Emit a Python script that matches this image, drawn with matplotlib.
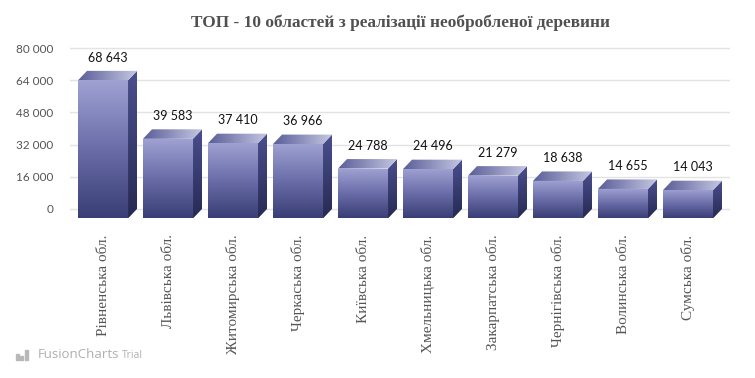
import numpy as np
import matplotlib.pyplot as plt
from matplotlib.patches import Polygon
from matplotlib.colors import LinearSegmentedColormap

# дані з діаграми
regions = ["Рівненська обл.", "Львівська обл.", "Житомирська обл.", "Черкаська обл.",
           "Київська обл.", "Хмельницька обл.", "Закарпатська обл.", "Чернігівська обл.",
           "Волинська обл.", "Сумська обл."]
values = [68643, 39583, 37410, 36966, 24788, 24496, 21279, 18638, 14655, 14043]
value_labels = ["68 643", "39 583", "37 410", "36 966", "24 788",
                "24 496", "21 279", "18 638", "14 655", "14 043"]
y_ticks = [0, 16000, 32000, 48000, 64000, 80000]
y_tick_labels = ["0", "16 000", "32 000", "48 000", "64 000", "80 000"]
title = "ТОП - 10 областей з реалізації необробленої деревини"

W, H = 755, 378
fig = plt.figure(figsize=(W / 100, H / 100), dpi=100)
ax = fig.add_axes([70 / W, 1 - 222 / H, 660 / W, 178 / H])

ylim = (-6500, 82000)
xlim = (-0.508, 9.646)
units_per_px = (ylim[1] - ylim[0]) / 178
dx = 9 / 65                 # глибина 3D по x
dy = 9.5 * units_per_px     # глибина 3D по y
w = 50 / 65

cm_front = LinearSegmentedColormap.from_list("f", ["#a0a2d3", "#6a6da8", "#3a3e76"])
cm_side = LinearSegmentedColormap.from_list("s", ["#4a4f8f", "#262a52"])
cm_top = LinearSegmentedColormap.from_list("t", ["#5a5e98", "#c4c6e2"])
ramp = np.linspace(0, 1, 128)


def paint(patch, extent, cmap, horizontal=False):
    # градієнт, обрізаний по грані
    data = ramp[None, :] if horizontal else ramp[:, None]
    im = ax.imshow(data, extent=extent, aspect="auto", zorder=3, cmap=cmap,
                   interpolation="bilinear", origin="upper")
    im.set_clip_path(patch)


x = np.arange(len(values))
bars = ax.bar(x, values, width=w, bottom=-dy, color="none", edgecolor="none", zorder=3)

for i, (rect, v) in enumerate(zip(bars, values)):
    l = rect.get_x()
    r = l + rect.get_width()
    paint(rect, (l, r, -dy, v - dy), cm_front)

    side = Polygon([(r, -dy), (r + dx, 0), (r + dx, v), (r, v - dy)], closed=True,
                   facecolor="none", edgecolor="none")
    ax.add_patch(side)
    paint(side, (r, r + dx, -dy, v), cm_side)

    top = Polygon([(l, v - dy), (l + dx, v), (r + dx, v), (r, v - dy)], closed=True,
                  facecolor="none", edgecolor="none")
    ax.add_patch(top)
    paint(top, (l, r + dx, v - dy, v), cm_top, horizontal=True)

    ax.annotate(value_labels[i], (i + dx / 2, v), xytext=(0, 9.5), textcoords="offset points",
                ha="center", va="center", fontsize=9, family="Lato", color="#111111",
                annotation_clip=False)

ax.set_xlim(*xlim)
ax.set_ylim(*ylim)
ax.set_yticks(y_ticks)
ax.set_yticklabels(y_tick_labels, family="Lato", fontsize=8.5, color="#555555")
ax.set_xticks(x)
ax.set_xticklabels(regions, rotation=90, va="top", ha="center",
                   family="Liberation Serif", fontsize=11, color="#555555")
ax.tick_params(axis="x", length=0, pad=9)
ax.tick_params(axis="y", length=0, pad=12)
ax.yaxis.grid(True, color="#e3e3e3", linewidth=1)
ax.set_axisbelow(True)
for s in ax.spines.values():
    s.set_visible(False)

fig.text(400 / W, 1 - 23 / H, title, ha="center", va="center", family="Liberation Serif",
         fontweight="bold", fontsize=12.4, color="#505050")

# водяний знак
fig.text(38 / W, 1 - 355 / H, "FusionCharts", ha="left", va="center", family="Open Sans",
         fontsize=9.5, color="#b0b0b0")
fig.text(122 / W, 1 - 355 / H, "Trial", ha="left", va="center", family="Open Sans",
         fontsize=7.5, color="#b0b0b0")
for px, ph in [(16, 6), (20, 4), (25, 10)]:
    fig.patches.append(plt.Rectangle((px / W, 1 - 360 / H), 3 / W, ph / H,
                                     transform=fig.transFigure, color="#b8b8b8"))

fig.savefig("out.png", dpi=100)
